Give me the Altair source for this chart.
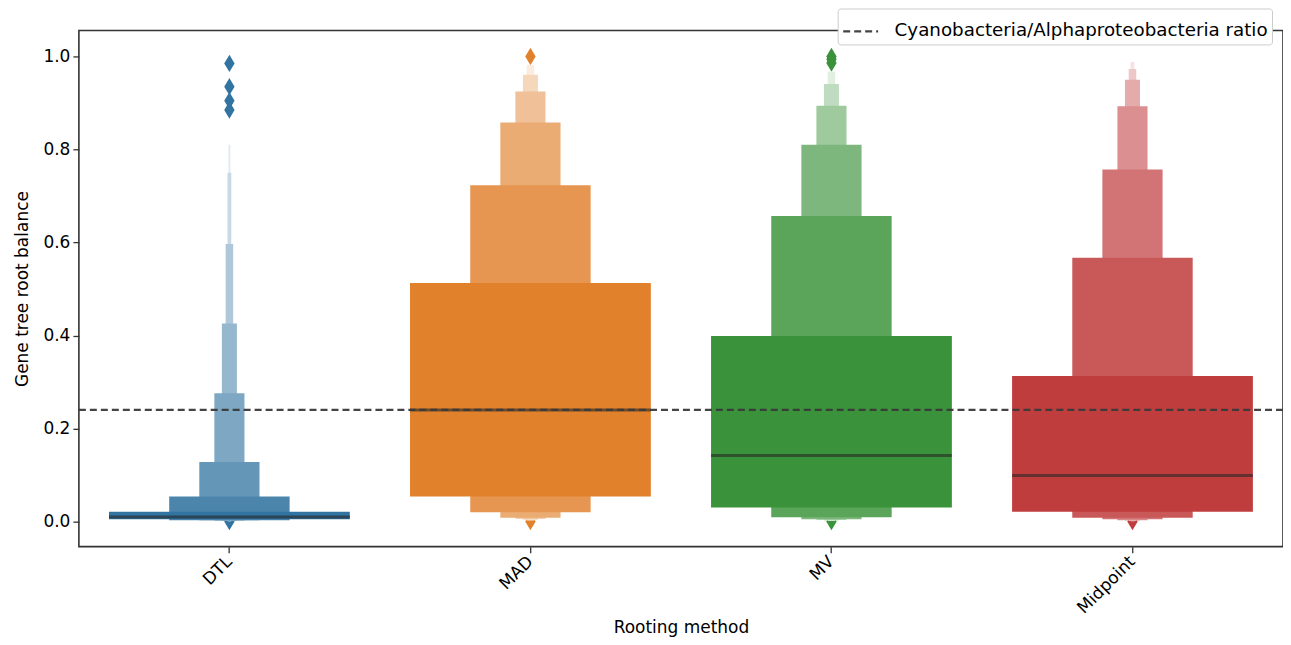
import altair as alt
import pandas as pd

methods = ["DTL", "MAD", "MV", "Midpoint"]
palette = ["#3274a1", "#e1812c", "#3a923a", "#c03d3e"]

# letter-value boxes: lower / upper bound of each level (innermost first)
dtl_lower = [0.005, 0.003, 0.0025, 0.002, 0.0015, 0.001, 0.0008, 0.0005]
dtl_upper = [0.021, 0.054, 0.128, 0.276, 0.426, 0.597, 0.750, 0.810]
mad_lower = [0.054, 0.020, 0.008, 0.006, 0.004, 0.002]
mad_upper = [0.513, 0.723, 0.858, 0.925, 0.961, 0.982]
mv_lower = [0.030, 0.009, 0.005, 0.004, 0.002, 0.001]
mv_upper = [0.399, 0.657, 0.810, 0.894, 0.941, 0.968]
mid_lower = [0.021, 0.008, 0.005, 0.003, 0.002, 0.001, 0.0005]
mid_upper = [0.313, 0.567, 0.757, 0.893, 0.950, 0.973, 0.988]

medians = [0.010, 0.240, 0.142, 0.099]

dtl_outliers = [0.985, 0.935, 0.905, 0.885, 0.0]
mad_outliers = [1.0, 0.0]
mv_outliers = [1.0, 0.994, 0.986, 0.0]
mid_outliers = [0.0]

ratio = 0.24
ratio_label = "Cyanobacteria/Alphaproteobacteria ratio"

lowers = [dtl_lower, mad_lower, mv_lower, mid_lower]
uppers = [dtl_upper, mad_upper, mv_upper, mid_upper]
outliers = [dtl_outliers, mad_outliers, mv_outliers, mid_outliers]


def hex_to_rgb(h):
    h = h.lstrip("#")
    return [int(h[i:i + 2], 16) for i in (0, 2, 4)]


def blend(h, t):
    r, g, b = hex_to_rgb(h)
    return "#%02x%02x%02x" % tuple(int(round(c + (255 - c) * t)) for c in (r, g, b))


box_rows = []
for m, col, lo, hi in zip(methods, palette, lowers, uppers):
    k = len(lo)
    for i in range(k):
        box_rows.append({
            "method": m,
            "level": i,
            "lo": lo[i],
            "hi": hi[i],
            "w": 0.8 * 0.5 ** i,
            "fill": blend(col, 0.85 * i / (k - 1)),
        })
# outer levels first so inner ones are drawn on top
box_df = pd.DataFrame(box_rows).sort_values(["method", "level"], ascending=[True, False])

out_rows = []
for m, col, vals in zip(methods, palette, outliers):
    for v in vals:
        out_rows.append({"method": m, "value": v, "fill": col})
out_df = pd.DataFrame(out_rows)

med_df = pd.DataFrame({"method": methods, "median": medians})
ratio_df = pd.DataFrame({"label": [ratio_label], "ratio": [ratio]})

FONT = "DejaVu Sans"
W, H = 1206, 517
FS = 17

xscale = alt.Scale(domain=methods, paddingInner=0, paddingOuter=0)
yscale = alt.Scale(domain=[-0.054, 1.056], nice=False, zero=False)

x_enc = alt.X(
    "method:N", scale=xscale, sort=methods, title="Rooting method",
    axis=alt.Axis(labelAngle=-45, labelAlign="right", labelBaseline="middle",
                  labelFontSize=FS, titleFontSize=FS, labelFont=FONT, titleFont=FONT,
                  titleFontWeight="normal",
                  labelColor="#000", titleColor="#000", tickColor="#333",
                  tickSize=6, tickWidth=1.3, labelPadding=6, titlePadding=3, domain=False),
)
y_enc_axis = alt.Axis(values=[0, 0.2, 0.4, 0.6, 0.8, 1.0], format=".1f", grid=False,
                      labelFontSize=FS, titleFontSize=FS, labelFont=FONT, titleFont=FONT,
                      titleFontWeight="normal",
                      labelColor="#000", titleColor="#000", tickColor="#333",
                      tickSize=6, tickWidth=1.3, labelPadding=3, titlePadding=11, domain=False)

diamond = "M0,-1L0.6,0L0,1L-0.6,0Z"

pts = alt.Chart(out_df).mark_point(shape=diamond, filled=True, size=300, opacity=1).encode(
    x=x_enc,
    y=alt.Y("value:Q", scale=yscale, title="Gene tree root balance", axis=y_enc_axis),
    color=alt.Color("fill:N", scale=None),
)

boxes = alt.Chart(box_df).mark_bar(strokeWidth=0).encode(
    x=alt.X("method:N", scale=xscale, sort=methods),
    y=alt.Y("lo:Q", scale=yscale),
    y2="hi:Q",
    size=alt.Size("w:Q", scale=alt.Scale(domain=[0, 1], range=[0, W / 4]), legend=None),
    color=alt.Color("fill:N", scale=None),
    order=alt.Order("level:Q", sort="descending"),
)

meds = alt.Chart(med_df).mark_tick(size=0.8 * W / 4, thickness=3, color="#262626", opacity=0.6).encode(
    x=alt.X("method:N", scale=xscale, sort=methods),
    y=alt.Y("median:Q", scale=yscale),
)

rule = alt.Chart(ratio_df).mark_rule(strokeWidth=2.2, color="#3a3a3a", opacity=0.95).encode(
    y=alt.Y("ratio:Q", scale=yscale),
    strokeDash=alt.StrokeDash(
        "label:N",
        scale=alt.Scale(domain=[ratio_label], range=[[7, 4]]),
        legend=alt.Legend(title=None, orient="none", legendX=760, legendY=-22,
                          symbolType="stroke", symbolStrokeColor="#3a3a3a",
                          symbolStrokeWidth=2.2, symbolSize=1225,
                          labelFontSize=18.3, labelFont=FONT, labelColor="#000",
                          labelOffset=15, labelLimit=600,
                          strokeColor="#cccccc", fillColor="white",
                          padding=4, cornerRadius=3),
    ),
)

chart = alt.layer(pts, boxes, meds, rule).properties(
    width=W, height=H,
    autosize=alt.AutoSizeParams(type="none"),
    padding={"left": 71, "top": 22, "right": 0, "bottom": 90},
).configure(background="white").configure_view(stroke="#333333", strokeWidth=1.6)

chart.save("out.html", embed_options={"renderer": "svg", "actions": False})
